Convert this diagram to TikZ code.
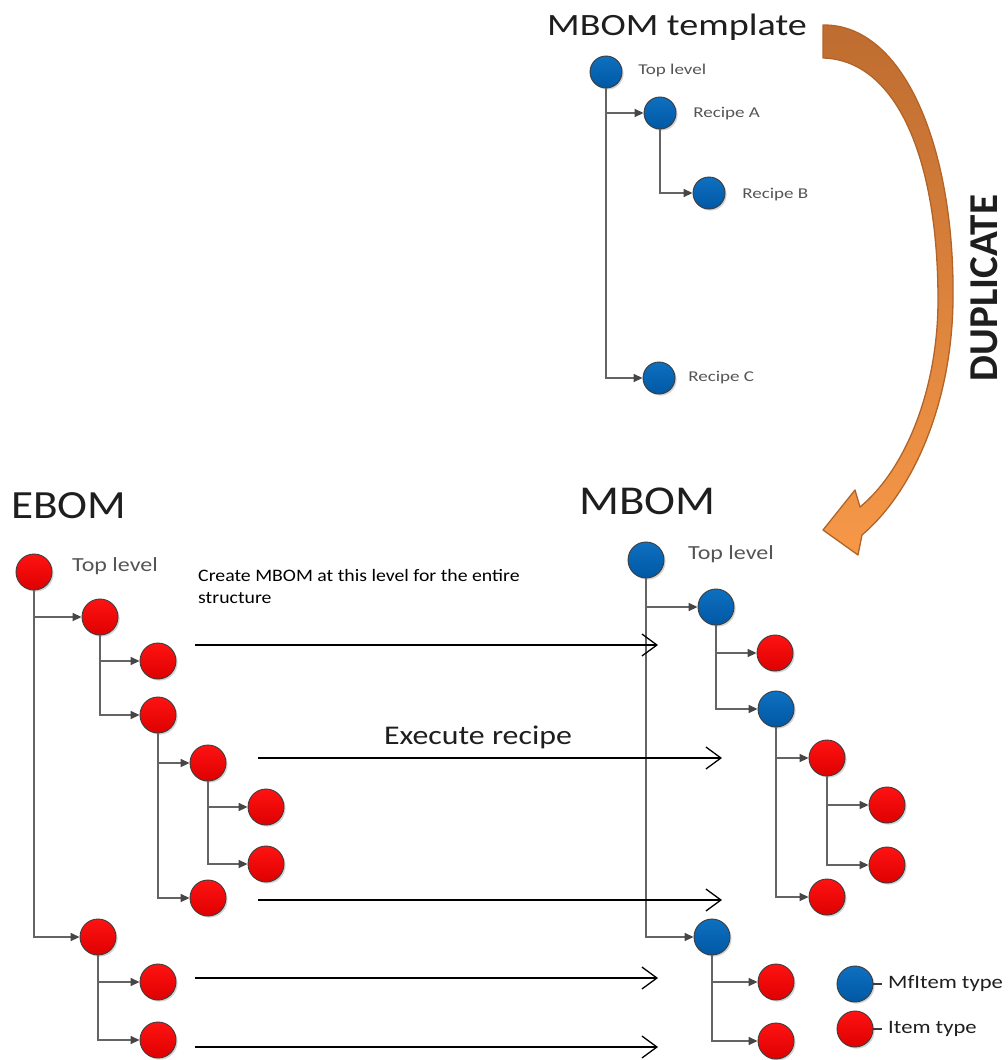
\documentclass[tikz,border=0pt]{standalone}
\usepackage{fontspec}
\setmainfont{Carlito}
\usetikzlibrary{arrows.meta,shadows,calc}
\definecolor{bluetop}{RGB}{14,112,192}
\definecolor{bluebot}{RGB}{0,88,164}
\definecolor{redtop}{RGB}{255,18,18}
\definecolor{redbot}{RGB}{222,0,0}
\definecolor{outl}{RGB}{60,60,60}
\definecolor{connc}{RGB}{100,100,100}
\definecolor{tipc}{RGB}{70,70,70}
\definecolor{titlec}{RGB}{30,30,30}
\definecolor{labc}{RGB}{85,85,85}
\definecolor{orgtop}{RGB}{190,108,48}
\definecolor{orgbot}{RGB}{247,152,72}
\definecolor{orgedge}{RGB}{178,100,40}
\tikzset{
  ball/.style={circle, draw=outl, line width=0.9pt, inner sep=0pt, minimum size=36pt,
    drop shadow={shadow xshift=1.6pt, shadow yshift=-1.6pt, opacity=0.35}},
  bball/.style={ball, top color=bluetop, bottom color=bluebot},
  rball/.style={ball, top color=redtop, bottom color=redbot},
  tball/.style={bball, minimum size=32pt},
  conn/.style={draw=connc, line width=1.7pt, -{Triangle[length=9pt,width=8pt,fill=tipc,color=tipc]}},
  bigarrow/.style={draw=black, line width=1.5pt, -{Straight Barb[length=15pt,width=22pt,line width=1.3pt]}},
  txt/.style={inner sep=0pt},
  smalllab/.style={txt, anchor=west, text=labc, font=\fontsize{15}{17}\selectfont, xscale=1.27},
  lab/.style={txt, anchor=west, text=labc, font=\fontsize{20}{22}\selectfont, xscale=1.2},
  title/.style={txt, text=titlec},
  legtext/.style={txt, anchor=west, text=titlec, font=\fontsize{19}{21}\selectfont, xscale=1.19},
}
\begin{document}
\begin{tikzpicture}[x=1pt,y=-1pt]
\useasboundingbox (0,0) rectangle (1007,1060);
% ---------- orange DUPLICATE arrow ----------
\shade[top color=orgtop, bottom color=orgbot, draw=orgedge, line width=1.3pt, line join=round]
  (823,25) .. controls (905,24) and (955,150) .. (953,300)
  .. controls (952,400) and (915,490) .. (862,535)
  -- (858,555) -- (823,530) -- (855,490) -- (860,507)
  .. controls (905,470) and (938,390) .. (938,300)
  .. controls (938,155) and (895,60) .. (823,58) -- cycle;
\node[txt, text=titlec, rotate=90, font=\fontsize{41}{44}\selectfont\bfseries] (dup) at (984,288) {DUPLICATE};
% ---------- MBOM template ----------
\node[title, font=\fontsize{31}{34}\selectfont, xscale=1.23] (ttitle) at (677,27) {MBOM template};
\node[tball] (t0) at (606,72) {};
\node[tball] (t1) at (660,113) {};
\node[tball] (t2) at (709,193) {};
\node[tball] (t3) at (659,378) {};
\node[smalllab] (t0l) at (638,70) {Top level};
\node[smalllab] (t1l) at (693,114) {Recipe A};
\node[smalllab] (t2l) at (742,195) {Recipe B};
\node[smalllab] (t3l) at (688,378) {Recipe C};
\draw[conn] (t0.south) |- (t1);
\draw[conn] (t0.south) |- (t3);
\draw[conn] (t1.south) |- (t2);
% ---------- EBOM ----------
\node[title, anchor=west, font=\fontsize{40}{44}\selectfont, xscale=1.13] (etitle) at (11,506) {EBOM};
\node[rball] (e1) at (34,572) {};
\node[rball] (e2) at (100,617) {};
\node[rball] (e3) at (158,661) {};
\node[rball] (e4) at (158,715) {};
\node[rball] (e5) at (208,763) {};
\node[rball] (e6) at (266,807) {};
\node[rball] (e7) at (266,864) {};
\node[rball] (e8) at (208,898) {};
\node[rball] (e9) at (98,937) {};
\node[rball] (e10) at (158,982) {};
\node[rball] (e11) at (158,1040) {};
\node[lab] (e1l) at (72,566) {Top level};
\draw[conn] (e1.south) |- (e2);
\draw[conn] (e1.south) |- (e9);
\draw[conn] (e2.south) |- (e3);
\draw[conn] (e2.south) |- (e4);
\draw[conn] (e4.south) |- (e5);
\draw[conn] (e4.south) |- (e8);
\draw[conn] (e5.south) |- (e6);
\draw[conn] (e5.south) |- (e7);
\draw[conn] (e9.south) |- (e10);
\draw[conn] (e9.south) |- (e11);
% ---------- MBOM ----------
\node[title, anchor=west, font=\fontsize{41}{44}\selectfont, xscale=1.14] (mtitle) at (579,501) {MBOM};
\node[bball] (m1) at (646,560) {};
\node[bball] (m2) at (716,607) {};
\node[rball] (m3) at (775,653) {};
\node[bball] (m4) at (776,709) {};
\node[rball] (m5) at (827,758) {};
\node[rball] (m6) at (887,805) {};
\node[rball] (m7) at (887,865) {};
\node[rball] (m8) at (827,897) {};
\node[bball] (m9) at (712,937) {};
\node[rball] (m10) at (776,982) {};
\node[rball] (m11) at (776,1041) {};
\node[lab] (m1l) at (688,554) {Top level};
\draw[conn] (m1.south) |- (m2);
\draw[conn] (m1.south) |- (m9);
\draw[conn] (m2.south) |- (m3);
\draw[conn] (m2.south) |- (m4);
\draw[conn] (m4.south) |- (m5);
\draw[conn] (m4.south) |- (m8);
\draw[conn] (m5.south) |- (m6);
\draw[conn] (m5.south) |- (m7);
\draw[conn] (m9.south) |- (m10);
\draw[conn] (m9.south) |- (m11);
% ---------- transformation arrows ----------
\node[txt, anchor=north west, align=left, text=black, font=\fontsize{17.5}{22}\selectfont, xscale=1.13] (create) at (198,569) {Create MBOM at this level for the entire\\structure};
\node[title, font=\fontsize{27}{30}\selectfont, xscale=1.18] (exec) at (478,737) {Execute recipe};
\coordinate (a1s) at (195,645); \coordinate (a1e) at (658,645);
\coordinate (a2s) at (258,758); \coordinate (a2e) at (722,758);
\coordinate (a3s) at (258,900); \coordinate (a3e) at (722,900);
\coordinate (a4s) at (195,978); \coordinate (a4e) at (658,978);
\coordinate (a5s) at (195,1047); \coordinate (a5e) at (658,1047);
\draw[bigarrow] (a1s) -- (a1e);
\draw[bigarrow] (a2s) -- (a2e);
\draw[bigarrow] (a3s) -- (a3e);
\draw[bigarrow] (a4s) -- (a4e);
\draw[bigarrow] (a5s) -- (a5e);
% ---------- legend ----------
\node[bball] (lb) at (855,984) {};
\node[rball] (lr) at (855,1029) {};
\node[legtext] (lbt) at (888,984) {MfItem type};
\node[legtext] (lrt) at (888,1029) {Item type};
\draw[draw=outl, line width=1.2pt, shorten >=6pt] (lb) -- (lbt);
\draw[draw=outl, line width=1.2pt, shorten >=6pt] (lr) -- (lrt);
\end{tikzpicture}
\end{document}
